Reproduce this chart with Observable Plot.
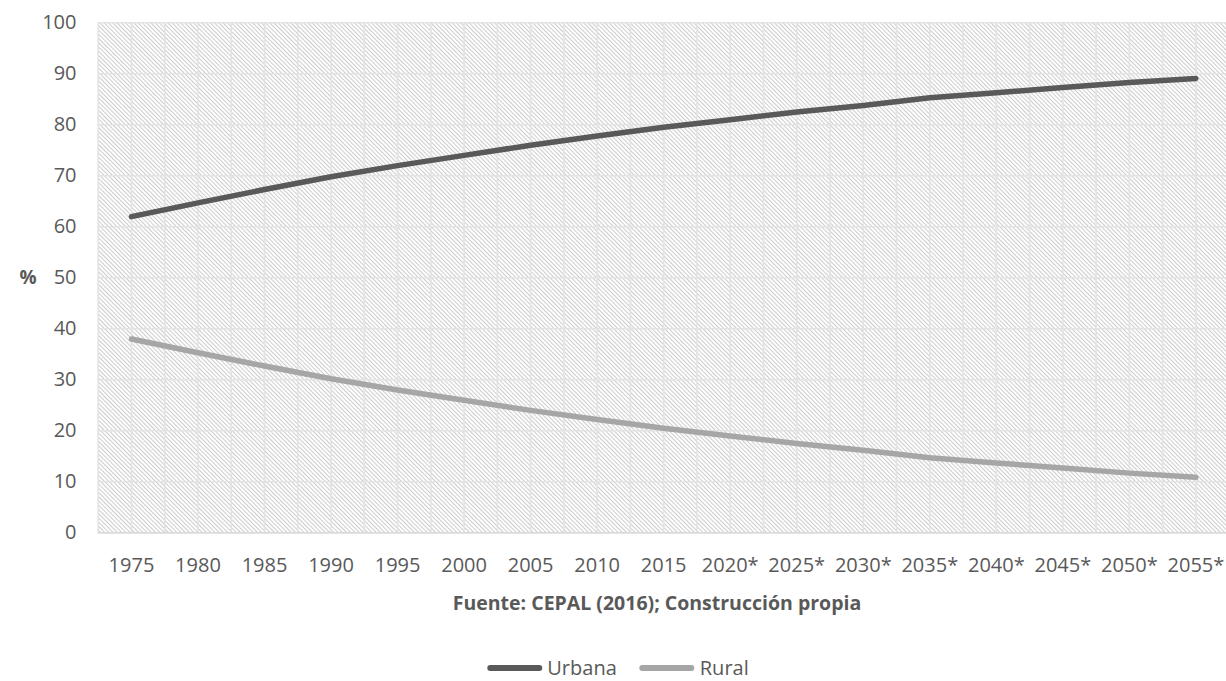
<!DOCTYPE html>
<html>
<head>
<meta charset="utf-8">
<script src="https://cdn.jsdelivr.net/npm/d3@7"></script>
<script src="https://cdn.jsdelivr.net/npm/@observablehq/plot@0.6"></script>
<style>
  html, body { margin: 0; padding: 0; background: #fff; overflow: hidden; width: 1226px; height: 681px; }
  body { position: relative; font-family: "Open Sans", sans-serif; color: #595959; }
  #chart { position: absolute; left: 0; top: 0; }
  #title { position: absolute; left: 657px; top: 603px; transform: translate(-50%, -50%); font-weight: bold; font-size: 19.5px; line-height: 24px; white-space: nowrap; }
  #legend { position: absolute; left: 618px; top: 668px; transform: translate(-50%, -50%); display: flex; align-items: center; font-size: 20px; line-height: 22px; white-space: nowrap; }
  .sw { display: inline-block; width: 55px; height: 6px; border-radius: 3px; margin-right: 5px; }
  .item { display: flex; align-items: center; }
</style>
</head>
<body>
<div id="chart"></div>
<div id="title">Fuente: CEPAL (2016); Construcción propia</div>
<div id="legend"></div>
<script>
const years = ["1975","1980","1985","1990","1995","2000","2005","2010","2015","2020*","2025*","2030*","2035*","2040*","2045*","2050*","2055*"];
const urbana = [62, 64.7, 67.3, 69.8, 72, 74, 76, 77.8, 79.5, 81, 82.5, 83.8, 85.3, 86.3, 87.3, 88.3, 89.1];
const rural  = [38, 35.3, 32.7, 30.2, 28, 26, 24, 22.2, 20.5, 19, 17.5, 16.2, 14.7, 13.7, 12.7, 11.7, 10.9];
const yTicks = [0, 10, 20, 30, 40, 50, 60, 70, 80, 90, 100];
const seriesNames = ["Urbana", "Rural"];
const seriesColors = ["#595959", "#a6a6a6"];

const data = [];
years.forEach((y, i) => {
  data.push({i, year: y, serie: "Urbana", v: urbana[i]});
  data.push({i, year: y, serie: "Rural", v: rural[i]});
});
const xIdx = years.map((_, i) => i);
const xGrid = d3.range(-0.5, years.length, 0.5);

const defs = () => {
  const g = document.createElementNS("http://www.w3.org/2000/svg", "defs");
  g.innerHTML = `<pattern id="hatch" patternUnits="userSpaceOnUse" width="3" height="3" patternTransform="rotate(-45)">
      <rect width="3" height="3" fill="#ffffff"/>
      <line x1="0.5" y1="0" x2="0.5" y2="3" stroke="#cdcdcd" stroke-width="1.1"/>
    </pattern>`;
  return g;
};

const chart = Plot.plot({
  width: 1226,
  height: 585,
  marginLeft: 97.7,
  marginRight: 0,
  marginTop: 22.3,
  marginBottom: 52.7,
  style: { fontFamily: "Open Sans, sans-serif", color: "#595959", background: "transparent" },
  x: { type: "linear", domain: [-0.5, 16.46] },
  y: { domain: [0, 100] },
  color: { domain: seriesNames, range: seriesColors },
  marks: [
    defs,
    Plot.frame({ fill: "url(#hatch)", stroke: null }),
    Plot.ruleX(xGrid, { stroke: "#e3e3e3", strokeWidth: 1.6 }),
    Plot.ruleY(yTicks, { stroke: "#e3e3e3", strokeWidth: 1.6 }),
    Plot.ruleY([0], { stroke: "#d9d9d9", strokeWidth: 1.6 }),
    Plot.axisX({ ticks: xIdx, tickFormat: i => years[i], tickSize: 0, tickPadding: 25, fontSize: 20, fill: "#595959", label: null }),
    Plot.axisY({ ticks: yTicks, tickSize: 0, tickPadding: 21.7, fontSize: 20, fill: "#595959", label: null }),
    Plot.text(["%"], { frameAnchor: "left", dx: -78.7, fontWeight: "bold", fontSize: 19, fill: "#595959" }),
    Plot.line(data, { x: "i", y: "v", z: "serie", stroke: "serie", strokeWidth: 5.5, strokeLinecap: "round", strokeLinejoin: "round" })
  ]
});
document.getElementById("chart").appendChild(chart);

const legend = document.getElementById("legend");
seriesNames.forEach((n, k) => {
  const item = document.createElement("span");
  item.className = "item";
  item.style.marginRight = k === 0 ? "23px" : "0";
  item.innerHTML = `<span class="sw" style="background:${seriesColors[k]}"></span><span>${n}</span>`;
  legend.appendChild(item);
});
</script>
</body>
</html>
